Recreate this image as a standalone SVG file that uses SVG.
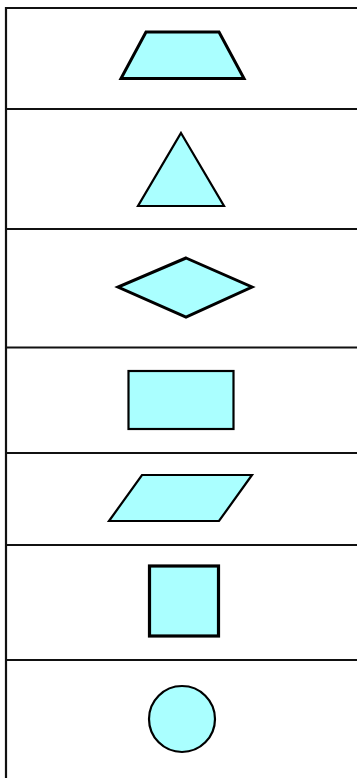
<svg xmlns="http://www.w3.org/2000/svg" width="357" height="778" viewBox="0 0 357 778">
<style>
.shape{fill:#aaffff;stroke:#000;stroke-linejoin:miter}
.rule{stroke:#111;stroke-width:2.2;fill:none}
</style>
<rect width="357" height="778" fill="#fff"/>
<g id="grid">
<line class="rule" x1="6" y1="8" x2="357" y2="8"/>
<line class="rule" x1="6" y1="7" x2="6" y2="778"/>
<line class="rule" x1="6" y1="109" x2="357" y2="109"/>
<line class="rule" x1="6" y1="229" x2="357" y2="229"/>
<line class="rule" x1="6" y1="347.5" x2="357" y2="347.5"/>
<line class="rule" x1="6" y1="453" x2="357" y2="453"/>
<line class="rule" x1="6" y1="545" x2="357" y2="545"/>
<line class="rule" x1="6" y1="660" x2="357" y2="660"/>
</g>
<g id="trapezoid"><polygon class="shape" stroke-width="3" points="146,32 219,32 244,78.5 121,78.5"/></g>
<g id="triangle"><polygon class="shape" stroke-width="2.2" points="181,133 224,206 138,206"/></g>
<g id="diamond"><polygon class="shape" stroke-width="3" points="186,258 252,287 186,317 118,287"/></g>
<g id="rectangle"><rect class="shape" stroke-width="2.2" x="128.5" y="371" width="105" height="58"/></g>
<g id="parallelogram"><polygon class="shape" stroke-width="2.2" points="142,475 252,475 219,521 109,521"/></g>
<g id="square"><rect class="shape" stroke-width="3.2" x="149.5" y="566" width="69" height="70"/></g>
<g id="circle"><circle class="shape" stroke-width="2.2" cx="182" cy="719" r="33"/></g>
</svg>
